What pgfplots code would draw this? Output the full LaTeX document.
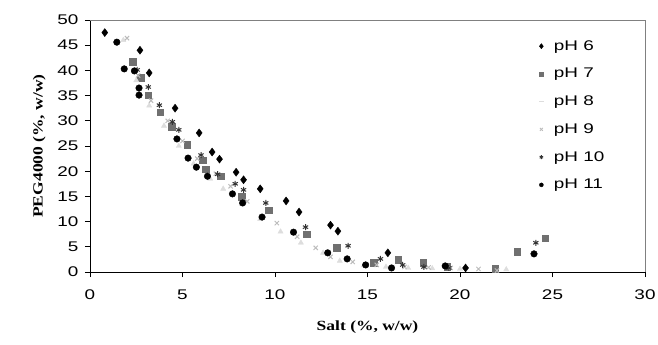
\documentclass[border=0pt]{standalone}
\usepackage{pgfplots}
\pgfplotsset{compat=1.18}
\usepackage{fontspec}
\setmainfont{Liberation Sans}
\newfontfamily\widesans[FakeStretch=1.35]{Liberation Sans}
\newfontfamily\timesf[FakeStretch=1.25]{Liberation Serif}
\definecolor{c7}{HTML}{707070}
\definecolor{c8}{HTML}{DDDDDD}
\definecolor{c9}{HTML}{BBBBBB}
\definecolor{c10}{HTML}{333333}
\begin{document}
\begin{tikzpicture}
\begin{axis}[
  scale only axis, width=555pt, height=252pt,
  xmin=0, xmax=30, ymin=0, ymax=50,
  xtick={0,5,...,30}, ytick={0,5,...,50},
  axis x line*=bottom, axis y line*=left,
  axis line style={black, line width=0.9pt},
  tick style={black, line width=0.9pt},
  tick align=outside, major tick length=5pt,
  /pgf/number format/assume math mode=true,
  tick label style={font=\widesans\fontsize{14}{16}\selectfont},
  xticklabel style={yshift=-9pt},
  yticklabel style={xshift=-3pt},
  xlabel={\timesf\bfseries Salt (\%, w/w)},
  ylabel={\timesf\bfseries PEG4000 (\%, w/w)},
  label style={font=\fontsize{14}{16}\selectfont},
  xlabel style={yshift=-14pt},
  ylabel style={yshift=5pt},
  legend cell align=left,
  legend style={draw=none, fill=none, at={(0.803,0.935)}, anchor=north west,
    font=\widesans\fontsize{14}{16}\selectfont, row sep=12.5pt,
    /tikz/every odd column/.append style={column sep=8pt}},
  clip=false,
]
\addlegendimage{only marks, mark=diamond*, mark size=2.6pt, color=black}
\addlegendentry{pH 6}
\addlegendimage{only marks, mark=square*, mark size=2pt, color=c7}
\addlegendentry{pH 7}
\addlegendimage{only marks, mark=-, mark size=2.5pt, color=c8, mark options={line width=1.2pt}}
\addlegendentry{pH 8}
\addlegendimage{only marks, mark=x, mark size=2pt, color=c9, mark options={line width=0.9pt}}
\addlegendentry{pH 9}
\addlegendimage{only marks, mark=asterisk, mark size=2pt, color=c10, mark options={line width=0.8pt}}
\addlegendentry{pH 10}
\addlegendimage{only marks, mark=*, mark size=2pt, color=black}
\addlegendentry{pH 11}
% pH 6
\addplot[forget plot, only marks, mark=diamond*, mark size=4pt, color=black] coordinates {
(0.8,47.5) (2.7,44.0) (3.2,39.5) (4.6,32.5) (5.9,27.6) (6.6,23.8) (7.0,22.4)
(7.9,19.8) (8.3,18.3) (9.2,16.5) (10.6,14.1) (11.3,11.9) (13.0,9.3) (13.4,8.1)
(16.1,3.8) (20.3,0.8)};
% pH 7
\addplot[forget plot, only marks, mark=square*, mark size=3.3pt, color=c7] coordinates {
(2.3,41.7) (2.75,38.5) (3.15,35.1) (3.8,31.7) (4.4,28.8) (5.25,25.2) (6.1,22.2)
(6.25,20.4) (7.05,19.0) (8.2,14.9) (9.65,12.3) (11.7,7.5) (13.35,4.8) (15.35,1.8)
(16.65,2.4) (18.0,1.8) (19.3,1.0) (21.9,0.6) (23.1,4.0) (24.6,6.7)};
% pH 8
\addplot[forget plot, only marks, mark=triangle*, mark size=3pt, color=c8] coordinates {
(1.8,46.0) (2.5,38.0) (3.2,33.0) (4.0,29.0) (4.8,25.0) (5.6,21.5) (6.5,18.5)
(7.2,16.5) (8.2,13.5) (9.2,10.5) (10.3,8.0) (11.4,5.8) (12.6,3.8) (13.5,2.2)
(14.8,1.3) (16.0,1.0) (17.2,0.8) (18.5,0.7) (20.0,0.6) (22.5,0.5)};
% pH 9
\addplot[forget plot, only marks, mark=x, mark size=3pt, color=c9, mark options={line width=1pt}] coordinates {
(2.0,46.4) (2.6,39.0) (3.3,34.0) (4.2,30.0) (5.0,26.0) (5.8,22.5) (6.8,19.5)
(7.6,17.0) (8.5,14.0) (10.1,9.7) (11.2,7.0) (12.2,4.8) (13.0,3.0) (14.2,2.0)
(15.5,1.4) (17.0,1.0) (18.3,0.9) (19.5,0.8) (21.0,0.6) (22.0,0.3)};
% pH 10
\addplot[forget plot, only marks, mark=asterisk, mark size=3pt, color=c10, mark options={line width=1pt}] coordinates {
(2.55,40.1) (3.15,36.7) (3.75,33.1) (4.45,29.8) (4.8,28.2) (6.0,23.2) (6.9,19.4)
(7.85,17.5) (8.3,16.3) (9.5,13.7) (11.65,8.9) (13.95,5.2) (15.7,2.6) (16.9,1.4)
(18.05,1.0) (19.4,0.8) (24.1,5.8)};
% pH 11
\addplot[forget plot, only marks, mark=*, mark size=3.3pt, color=black] coordinates {
(1.45,45.6) (1.85,40.3) (2.4,39.9) (2.65,36.5) (2.65,35.1) (4.7,26.4) (5.3,22.6)
(5.75,20.8) (6.35,19.0) (7.7,15.5) (8.25,13.7) (9.3,10.9) (11.0,7.9) (12.85,3.8)
(13.9,2.6) (14.9,1.4) (16.3,0.8) (19.2,1.2) (24.0,3.6)};
\end{axis}
\draw[gray, line width=0.9pt] (current axis.south east) -- (current axis.north east) -- (current axis.north west);
\pgfresetboundingbox
\path[use as bounding box] ([shift={(-90pt,-73pt)}]current axis.south west) rectangle ([shift={(13pt,20pt)}]current axis.north east);
\end{tikzpicture}
\end{document}
